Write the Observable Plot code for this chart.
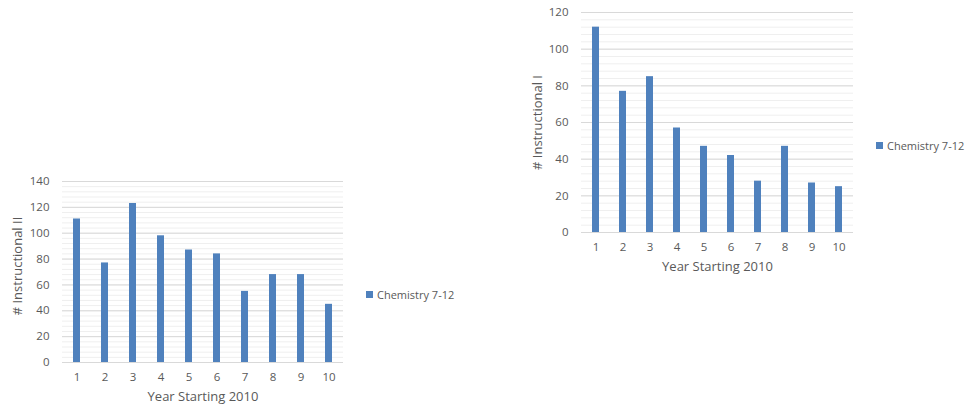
<!DOCTYPE html>
<html>
<head>
<meta charset="utf-8">
<script src="https://cdn.jsdelivr.net/npm/d3@7"></script>
<script src="https://cdn.jsdelivr.net/npm/@observablehq/plot@0.6"></script>
<style>
  body { margin: 0; background: #fff; }
  #page { position: relative; width: 971px; height: 413px; overflow: hidden; font-family: "Open Sans", sans-serif; }
  .chart { position: absolute; }
  .legend { position: absolute; display: flex; align-items: center; font-size: 11px; color: #595959; white-space: nowrap; }
  .legend .sw { width: 7px; height: 7px; background: #4f81bd; margin-right: 4px; }
</style>
</head>
<body>
<div id="page"></div>
<script>
// Year index (1 = 2010)
const years = [1, 2, 3, 4, 5, 6, 7, 8, 9, 10];
// Number of Instructional II certificates, Chemistry 7-12
const instructionalII = [111, 77, 123, 98, 87, 84, 55, 68, 68, 45];
// Number of Instructional I certificates, Chemistry 7-12
const instructionalI = [112, 77, 85, 57, 47, 42, 28, 47, 27, 25];
// Labelled y ticks
const ticksII = [0, 20, 40, 60, 80, 100, 120, 140];
const ticksI = [0, 20, 40, 60, 80, 100, 120];
const seriesName = "Chemistry 7-12";
const xTitle = "Year Starting 2010";

const barColor = "#4f81bd";
const page = document.getElementById("page");

function makeChart(opt) {
  const data = years.map((year, i) => ({year, value: opt.values[i]}));
  const top = opt.ticks[opt.ticks.length - 1];
  const minor = d3.range(0, top + 0.001, 4);
  const chart = Plot.plot({
    width: opt.width,
    height: opt.height,
    marginLeft: opt.marginLeft,
    marginRight: opt.marginRight,
    marginTop: opt.marginTop,
    marginBottom: opt.marginBottom,
    style: {fontFamily: "'Open Sans', sans-serif", fontSize: "11.5px", color: "#595959", background: "transparent"},
    x: {type: "band", domain: years, paddingInner: 0.74, paddingOuter: 0.37, label: null},
    y: {domain: [0, top], label: null},
    marks: [
      Plot.ruleY(minor, {stroke: "#efefef", strokeWidth: 1}),
      Plot.ruleY(opt.ticks, {stroke: "#d9d9d9", strokeWidth: 1}),
      Plot.barY(data, {x: "year", y: "value", fill: barColor}),
      Plot.axisX({tickSize: 0, tickPadding: 10, label: null}),
      Plot.axisY({ticks: opt.ticks, tickSize: 0, tickPadding: 13, label: null}),
      Plot.text([xTitle], {text: d => d, frameAnchor: "bottom", dy: opt.xTitleDy, fontSize: 13}),
      Plot.text([opt.yTitle], {text: d => d, frameAnchor: "left", textAnchor: "middle", rotate: -90, dx: opt.yTitleDx, dy: opt.yTitleDy, fontSize: 13})
    ]
  });
  chart.classList.add("chart");
  chart.style.left = opt.left + "px";
  chart.style.top = opt.top + "px";
  page.appendChild(chart);

  const legend = document.createElement("div");
  legend.className = "legend";
  legend.style.left = opt.legendLeft + "px";
  legend.style.top = opt.legendTop + "px";
  legend.innerHTML = `<span class="sw"></span><span></span>`;
  legend.lastChild.textContent = seriesName;
  page.appendChild(legend);
}

// Instructional II chart, lower left
makeChart({
  values: instructionalII, ticks: ticksII, yTitle: "# Instructional II",
  left: 0, top: 170, width: 350, height: 243,
  marginLeft: 62, marginRight: 7, marginTop: 11, marginBottom: 51,
  xTitleDy: 38, yTitleDx: -44.5, yTitleDy: -6,
  legendLeft: 366, legendTop: 287
});

// Instructional I chart, upper right
makeChart({
  values: instructionalI, ticks: ticksI, yTitle: "# Instructional I",
  left: 520, top: 0, width: 340, height: 285,
  marginLeft: 61, marginRight: 7, marginTop: 12, marginBottom: 53,
  xTitleDy: 38, yTitleDx: -44, yTitleDy: 0,
  legendLeft: 876, legendTop: 138
});
</script>
</body>
</html>
